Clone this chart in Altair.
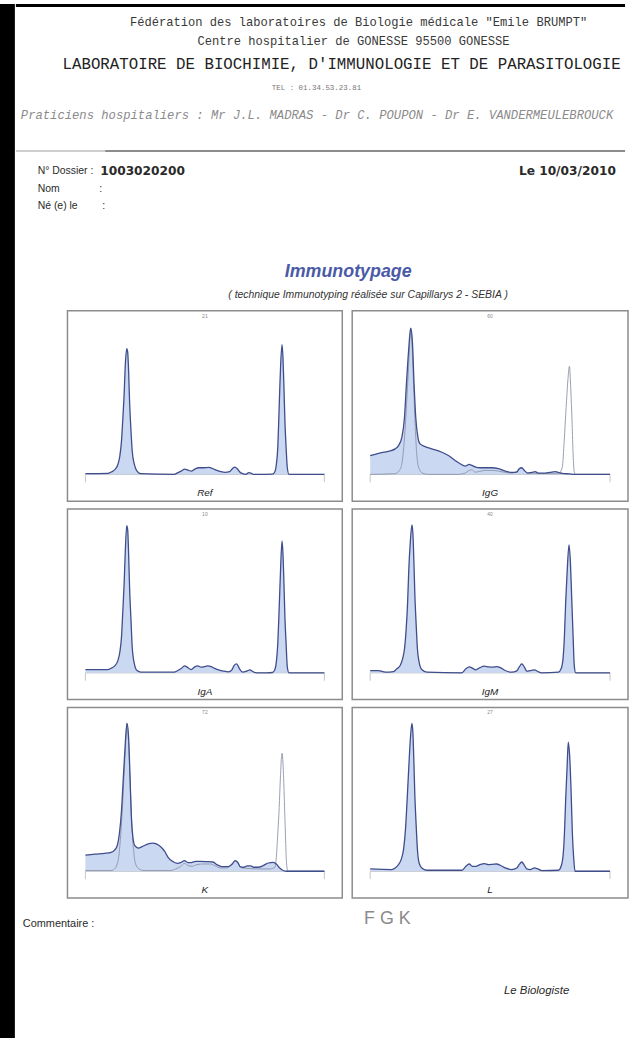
import altair as alt
import pandas as pd

# ---------------- texts ----------------
HEADER_L1 = 'Fédération des laboratoires de Biologie médicale  "Emile BRUMPT"'
HEADER_L2 = 'Centre hospitalier de GONESSE  95500  GONESSE'
HEADER_L3 = "LABORATOIRE DE BIOCHIMIE, D'IMMUNOLOGIE ET DE PARASITOLOGIE"
HEADER_L4 = 'TEL : 01.34.53.23.81'
HEADER_L5 = 'Praticiens hospitaliers : Mr J.L. MADRAS  -  Dr C. POUPON  -  Dr E. VANDERMEULEBROUCK'
DOSSIER_LABEL = 'N° Dossier :'
DOSSIER_NUM = '1003020200'
DATE_TEXT = 'Le  10/03/2010'
NOM_LABEL = 'Nom'
NE_LABEL = 'Né (e) le'
TITLE = 'Immunotypage'
SUBTITLE = '( technique Immunotyping réalisée sur Capillarys 2 - SEBIA )'
COMMENT = 'Commentaire :'
HANDWRITTEN = 'F G  K'
SIGN = 'Le Biologiste'

PANEL_LABELS = ['Ref', 'IgG', 'IgA', 'IgM', 'K', 'L']
PANEL_CODES = ['21', '60', '10', '40', '72', '27']

# ---------------- curve data (migration position 0-100, intensity) ----------------
REF_POS = [0, 9.4, 11.1, 12.4, 13.6, 14.4, 15.1, 15.6, 16.2, 16.7, 17.3, 17.7, 18.1, 18.5, 19.1, 19.6, 20.5, 21.6, 23.2, 37.1,
           38.7, 40.1, 41.5, 42.9, 44.3, 45.6, 47.4, 49.5, 51.6, 53.4, 55.0, 56.7, 58.5, 60.3, 61.5, 62.5, 63.5, 64.5, 65.8, 67.2,
           68.3, 69.3, 70.3, 72.3, 78.3, 79.3, 79.9, 80.5, 80.9, 81.3, 81.7, 82.3, 82.7, 83.1, 83.5, 84.0, 84.5, 85.2, 86.9, 100]
REF_VAL = [0.7, 1, 2.7, 5, 10, 18.3, 33.3, 53.3, 80, 110, 126.7, 123.3, 103.3, 73.3, 43.3, 23.3, 10, 3.3, 0.7, 0,
           1.7, 3.3, 5.3, 4.3, 3.3, 5, 6.7, 6.7, 7, 5.7, 4, 2.7, 2, 2.7, 5.7, 7.3, 5.7, 2.7, 0.7, 0,
           1.7, 1.3, 0, 0, 0.3, 2.7, 10, 26.7, 53.3, 83.3, 110, 130.7, 116.7, 86.7, 53.3, 26.7, 6.7, 0, 0, 0]

IGG_POS = [0, 3.5, 7.6, 10.4, 11.8, 13.2, 14.3, 15.1, 16.0, 16.9, 17.6, 18.3, 19.0, 19.9, 20.8, 22.9, 25.7, 29.9, 32.6, 35.4,
           37.5, 39.6, 41.3, 42.4, 44.0, 45.8, 47.9, 50.7, 53.5, 56.3, 59.0, 61.1, 62.1, 63.2, 64.3, 65.7, 67.4, 68.8, 70.1, 72.9,
           75.0, 77.1, 78.5, 80.1, 83.0, 85.4, 100]
IGG_VAL = [19, 21.3, 23.3, 25.7, 29, 37.3, 57.3, 90.7, 124, 147.3, 134, 90.7, 57.3, 37.3, 30.7, 28, 25.7, 22.3, 19, 14,
           10.7, 8.3, 10, 9, 7.3, 6.7, 6.7, 6.7, 5.7, 3.3, 2, 2.3, 5.7, 6.7, 4, 1.3, 2, 2.7, 1.3, 1.3,
           2, 2.7, 2, 1, 0.5, 0, 0]
IGG_REF_POS = [0, 10.4, 12.2, 13.2, 14.0, 14.7, 15.4, 16.0, 16.9, 18.1, 18.8, 19.4, 20.4, 21.8, 24.3, 36.8, 39.6, 41.3, 42.4, 43.8,
               45.1, 47.9, 50.7, 53.5, 56.3, 59.0, 61.8, 63.2, 64.3, 65.7, 78.5, 80.1, 80.9, 81.7, 82.4, 83.1, 83.6, 84.2, 84.6, 85.1,
               85.7, 100]
IGG_REF_VAL = [0, 0.7, 4, 10.7, 27.3, 50.7, 80.7, 107.3, 147, 90.7, 47.3, 20.7, 5.7, 1.3, 0, 0, 1.3, 4, 4.7, 2.3,
               2.7, 4, 4, 3.3, 2, 1.3, 4, 6.7, 4, 1.3, 0.7, 7.3, 34, 67.3, 94, 109, 87.3, 50.7, 20.7, 2.3,
               0, 0]

IGA_POS = [0, 9.4, 11.1, 12.4, 13.6, 14.4, 15.1, 15.6, 16.2, 16.7, 17.3, 17.7, 18.1, 18.5, 19.1, 19.6, 20.5, 21.6, 23.2, 37.1,
           38.7, 40.1, 41.5, 42.6, 44.3, 45.6, 47.0, 48.4, 49.8, 51.2, 52.6, 53.9, 55.7, 57.8, 59.9, 61.3, 62.2, 63.3, 64.5, 65.8,
           67.5, 68.9, 70.0, 71.6, 75.8, 78.3, 79.3, 79.9, 80.5, 80.9, 81.3, 81.7, 82.3, 82.7, 83.1, 83.5, 84.0, 84.5, 85.2, 86.9, 100]
IGA_VAL = [3.3, 3.3, 5, 7.3, 12.3, 20.7, 35.7, 59, 89, 122.3, 148.3, 144, 119, 85.7, 52.3, 25.7, 9, 2.3, 0.7, 0.7,
           2.3, 4.3, 7, 5.7, 3.3, 5.7, 7, 5.7, 6.3, 7, 6.3, 4.7, 3, 1.7, 1, 3, 7.3, 9, 4, 0.7,
           1.7, 3, 1.3, 0, 0, 0.3, 3.3, 10.7, 29, 52.3, 79, 105.7, 133, 119, 89, 55.7, 29, 5.7, 0, 0, 0]

IGM_POS = [0, 3.5, 6.3, 9.7, 11.1, 12.5, 13.5, 14.3, 15.0, 15.6, 16.1, 16.7, 17.4, 17.8, 18.2, 18.6, 19.2, 19.7, 20.4, 21.5,
           23.6, 38.2, 39.9, 41.3, 42.6, 44.0, 45.8, 47.6, 49.3, 51.0, 52.8, 54.2, 56.3, 59.0, 61.1, 62.1, 63.2, 64.3, 65.3, 66.7,
           68.5, 69.9, 71.5, 78.5, 79.6, 80.4, 81.0, 81.5, 82.1, 82.9, 83.5, 84.0, 84.6, 85.1, 85.7, 86.8, 100]
IGM_VAL = [2.3, 2.3, 0.7, 1.3, 4, 7.3, 14, 24, 44, 70.7, 104, 130.7, 149, 140.7, 114, 80.7, 47.3, 24, 10.7, 3.3,
           0.7, 0, 4, 6, 4.7, 3, 5.3, 6.7, 6, 5.7, 6.3, 5.3, 2.3, 0.7, 2, 5.7, 9, 5.7, 1.7, 2.3,
           3, 1.3, 0, 0.7, 4, 14, 37.3, 70.7, 100.7, 129, 110.7, 77.3, 37.3, 7.3, 0, 0, 0]

K_POS = [0, 3.9, 8.0, 10.8, 12.2, 13.3, 14.2, 15.1, 15.8, 16.5, 17.4, 18.1, 18.7, 19.2, 19.9, 20.7, 22.1, 23.9, 26.0, 28.1,
         29.9, 31.5, 33.2, 34.6, 36.4, 38.5, 40.1, 41.5, 42.9, 44.3, 46.1, 48.1, 50.9, 53.4, 55.0, 57.1, 59.9, 61.3, 62.7, 63.8,
         64.7, 66.1, 67.8, 69.2, 70.5, 72.3, 74.4, 76.5, 78.6, 79.9, 81.0, 82.4, 84.1, 100]
K_VAL = [16.3, 17.3, 18, 19, 21.3, 25.7, 37.3, 60.7, 90.7, 120.7, 149, 134, 94, 57.3, 34, 25.7, 23.3, 25, 27.3, 28.3,
         27.3, 24.7, 20, 14, 10, 8, 9, 10.7, 8.7, 8.7, 10, 10, 9.7, 9.3, 6.7, 4.7, 4.7, 6.7, 10.7, 9,
         4.7, 4, 5.3, 5.3, 4, 4, 5.7, 8.3, 9, 7.3, 4, 1.3, 0, 0]
K_REF_POS = [0, 10.8, 12.2, 13.3, 14.1, 14.8, 15.5, 16.2, 16.9, 17.4, 18.1, 18.8, 19.5, 20.2, 21.0, 22.5, 24.6, 35.7, 37.8, 39.8,
             41.5, 42.9, 44.7, 46.7, 49.5, 52.3, 54.4, 56.4, 59.2, 62.7, 64.0, 65.4, 73.0, 77.2, 79.3, 79.9, 80.5, 81.1, 81.6, 82.3,
             82.9, 83.4, 83.8, 84.2, 84.8, 100]
K_REF_VAL = [0.7, 0.7, 2.3, 7.3, 17.3, 37.3, 64, 97.3, 130.7, 149, 127.3, 84, 44, 20.7, 7.3, 2.3, 0.7, 0.7, 2.3, 4.7,
             8, 5.7, 5, 6.7, 7.3, 7.3, 5.3, 3.3, 3.3, 10, 7.3, 3.3, 2.3, 2.3, 4, 14, 37.3, 64, 94, 119,
             97.3, 60.7, 30.7, 7.3, 0, 0]

L_POS = [0, 9.0, 10.4, 11.8, 12.9, 13.9, 14.7, 15.4, 16.1, 16.8, 17.4, 17.8, 18.2, 18.6, 19.2, 19.7, 20.4, 21.5, 23.6, 38.2,
         39.9, 41.3, 42.6, 44.0, 45.8, 47.6, 49.3, 51.0, 52.8, 54.2, 56.3, 59.0, 61.1, 62.1, 63.2, 64.3, 65.3, 66.7, 68.5, 69.9,
         71.5, 78.5, 79.6, 80.4, 81.0, 81.5, 82.1, 82.6, 83.2, 83.8, 84.3, 84.9, 85.4, 86.8, 100]
L_VAL = [2.3, 1.7, 3.3, 6.7, 11.7, 21.7, 41.7, 71.7, 105, 135, 149, 140, 111.7, 78.3, 45, 21.7, 8.3, 3.3, 1, 1,
         5, 7.3, 5, 5, 6.7, 7.7, 6.7, 7, 7.3, 6, 3.3, 1.7, 3.3, 6.7, 9.3, 6, 2.3, 1.7, 3.3, 2.3,
         0.7, 1, 5, 15, 38.3, 71.7, 105, 130, 115, 78.3, 38.3, 11.7, 0, 0, 0]

AXIS_ENDS = [0, 100]

# ---------------- styles ----------------
FILL = '#cad8f2'
LINE = '#3f4d8c'
THIN = '#8e94aa'
BORDER = '#8c8c8c'
MONO = 'Liberation Mono'
SANS = 'Liberation Sans'
DARK = '#2a2a2a'

ONE = pd.DataFrame({'k': [0]})
XS = alt.Scale(domain=[-7.5, 107.5], nice=False, zero=False)
YS = alt.Scale(domain=[-27, 165], nice=False, zero=False)


def txt(s, x, y, size, font=SANS, color=DARK, weight='normal', style='normal', align='left'):
    return alt.Chart(ONE).mark_text(
        text=s, align=align, baseline='middle', font=font, fontSize=size, color=color,
        fontWeight=weight, fontStyle=style, clip=True
    ).encode(x=alt.value(x), y=alt.value(y))


def panel(label, code, pos, val, ref_pos=None, ref_val=None, width=277):
    df = pd.DataFrame({'pos': pos, 'val': val})
    X = alt.X('pos:Q', scale=XS, axis=None)
    Y = alt.Y('val:Q', scale=YS, axis=None)
    layers = []
    base_df = pd.DataFrame({'start': [AXIS_ENDS[0]], 'end': [AXIS_ENDS[1]], 'level': [0]})
    layers.append(alt.Chart(base_df).mark_rule(color='#b8b8b8', strokeWidth=1).encode(
        x=alt.X('start:Q', scale=XS, axis=None), x2='end:Q', y=alt.Y('level:Q', scale=YS, axis=None)))
    tick_df = pd.DataFrame({'pos': AXIS_ENDS, 'top': [0, 0], 'bottom': [-8, -8]})
    layers.append(alt.Chart(tick_df).mark_rule(color='#c4c4c4', strokeWidth=1).encode(
        x=alt.X('pos:Q', scale=XS, axis=None), y=alt.Y('top:Q', scale=YS, axis=None), y2='bottom:Q'))
    layers.append(alt.Chart(df).mark_area(color=FILL, interpolate='monotone').encode(x=X, y=Y))
    if ref_pos is not None:
        rdf = pd.DataFrame({'pos': ref_pos, 'val': ref_val})
        layers.append(alt.Chart(rdf).mark_line(color=THIN, strokeWidth=0.9, interpolate='monotone').encode(x=X, y=Y))
    layers.append(alt.Chart(df).mark_line(color=LINE, strokeWidth=1.3, interpolate='monotone').encode(x=X, y=Y))
    lab_df = pd.DataFrame({'pos': [50, 50], 'val': [-19, 160], 'txt': [label, code]})
    layers.append(alt.Chart(lab_df.iloc[[0]]).mark_text(fontStyle='italic', fontSize=10, font=SANS, color='#222').encode(
        x=alt.X('pos:Q', scale=XS, axis=None), y=alt.Y('val:Q', scale=YS, axis=None), text='txt:N'))
    layers.append(alt.Chart(lab_df.iloc[[1]]).mark_text(fontSize=5, font=SANS, color='#888').encode(
        x=alt.X('pos:Q', scale=XS, axis=None), y=alt.Y('val:Q', scale=YS, axis=None), text='txt:N'))
    return alt.layer(*layers).properties(
        width=width, height=192,
        view=alt.ViewBackground(stroke=BORDER, strokeWidth=1.5)
    )


def block(w, h, color, opacity):
    return alt.Chart(ONE).mark_rect(color=color, opacity=opacity).encode(
        x=alt.value(0), x2=alt.value(w), y=alt.value(0), y2=alt.value(h)
    ).properties(width=w, height=h, view=alt.ViewBackground(strokeWidth=0))


# ---------------- header ----------------
hdr_layers = [
    alt.Chart(ONE).mark_rect(color='black').encode(x=alt.value(0), x2=alt.value(614), y=alt.value(0), y2=alt.value(3)),
    txt(HEADER_L1, 115, 18, 12.2, font=MONO, color='#3a3a3a'),
    txt(HEADER_L2, 183, 37, 12.2, font=MONO, color='#3a3a3a'),
    txt(HEADER_L3, 47, 60, 15.9, font=MONO, color='#222'),
    txt(HEADER_L4, 258, 85, 7.5, font=MONO, color='#777'),
    txt(HEADER_L5, 5, 112, 12.3, font=MONO, color='#8a8a8a', style='italic'),
    alt.Chart(ONE).mark_rule(color='#cfcfcf', strokeWidth=2).encode(x=alt.value(0), x2=alt.value(90), y=alt.value(148)),
    alt.Chart(ONE).mark_rule(color='#8c8c8c', strokeWidth=2).encode(x=alt.value(90), x2=alt.value(614), y=alt.value(148)),
    txt(DOSSIER_LABEL, 22, 168, 10.5),
    txt(DOSSIER_NUM, 85, 168, 12.3, font='DejaVu Sans', weight='bold'),
    txt(DATE_TEXT, 507, 168, 12.3, font='DejaVu Sans', weight='bold'),
    txt(NOM_LABEL, 22, 186, 10.5),
    txt(':', 84, 186, 10.5),
    txt(NE_LABEL, 22, 204, 10.5),
    txt(':', 87, 204, 10.5),
    txt(TITLE, 335, 270, 18, color='#4b5aa6', weight='bold', style='italic', align='center'),
    txt(SUBTITLE, 355, 293, 10.5, color='#333', style='italic', align='center'),
]
header = alt.layer(*hdr_layers).properties(width=614, height=308, view=alt.ViewBackground(strokeWidth=0))

# ---------------- panels ----------------
p_ref = panel(PANEL_LABELS[0], PANEL_CODES[0], REF_POS, REF_VAL)
p_igg = panel(PANEL_LABELS[1], PANEL_CODES[1], IGG_POS, IGG_VAL, IGG_REF_POS, IGG_REF_VAL, width=278)
p_iga = panel(PANEL_LABELS[2], PANEL_CODES[2], IGA_POS, IGA_VAL)
p_igm = panel(PANEL_LABELS[3], PANEL_CODES[3], IGM_POS, IGM_VAL, width=278)
p_k = panel(PANEL_LABELS[4], PANEL_CODES[4], K_POS, K_VAL, K_REF_POS, K_REF_VAL)
p_l = panel(PANEL_LABELS[5], PANEL_CODES[5], L_POS, L_VAL, width=278)

rows = [
    alt.hconcat(block(43, 192, 'white', 0), p_ref, p_igg, spacing=8),
    alt.hconcat(block(43, 192, 'white', 0), p_iga, p_igm, spacing=8),
    alt.hconcat(block(43, 192, 'white', 0), p_k, p_l, spacing=8),
]
grid = alt.vconcat(*rows, spacing=6)

# ---------------- footer ----------------
ftr_layers = [
    txt(COMMENT, 7, 25, 11),
    txt(HANDWRITTEN, 351, 20, 18, font=SANS, color='#8a8a8a'),
    txt(SIGN, 492, 93, 11.5, style='italic'),
]
footer = alt.layer(*ftr_layers).properties(width=614, height=144, view=alt.ViewBackground(strokeWidth=0))

doc = alt.vconcat(header, grid, footer, spacing=0)

strip = block(15, 1042, 'black', 1)

chart = alt.hconcat(strip, doc, spacing=0).properties(padding=0, background='white').configure_view(strokeWidth=0)

chart.save("out.html", embed_options={"renderer": "svg", "actions": False})
